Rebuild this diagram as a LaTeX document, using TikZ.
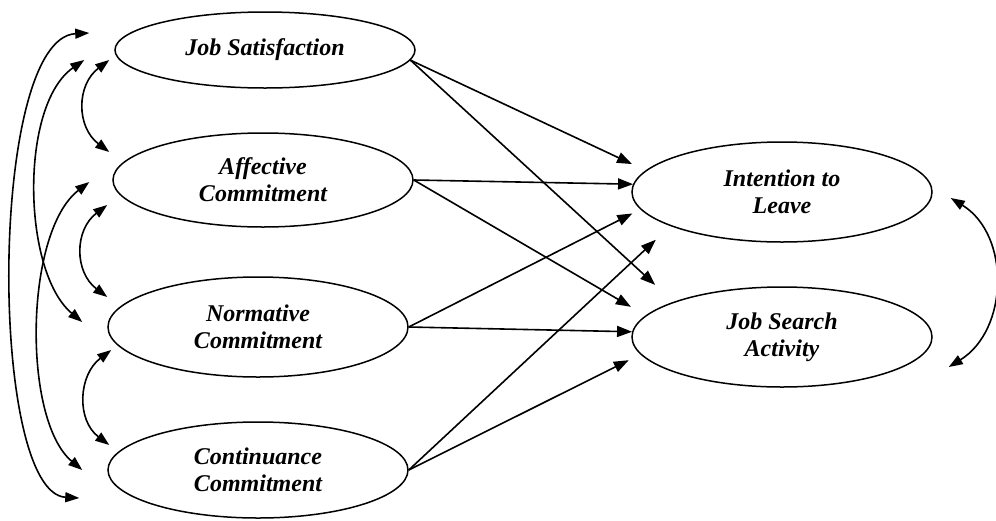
\documentclass[tikz,border=0pt]{standalone}
\usepackage{fontspec}
\setmainfont{Liberation Serif}
\usetikzlibrary{shapes.geometric,arrows.meta}

\begin{document}
\begin{tikzpicture}[x=1pt, y=-1pt,
    latent/.style ={ellipse, draw, line width=1.5pt, minimum width=300pt,
      minimum height=96pt, inner sep=0pt, align=center,
      font=\fontsize{24}{27}\selectfont\bfseries\itshape},
    effect/.style ={-{Triangle[length=15pt,width=11pt]}, line width=1.6pt},
    corr/.style ={{Triangle[length=14pt,width=10pt]}-{Triangle[length=14pt,width=10pt]}, line width=1.6pt}]
   \useasboundingbox (0,0) rectangle (996,520);

   \node[latent, minimum height=76pt] (js)  at (265,50)  {Job Satisfaction};
   \node[latent, minimum height=94pt] (ac)  at (263,180) {Affective\\Commitment};
   \node[latent, minimum height=100pt] (nc) at (258,327) {Normative\\Commitment};
   \node[latent] (cc)  at (258,470) {Continuance\\Commitment};
   \node[latent, minimum height=100pt] (il)  at (782,192) {Intention to\\Leave};
   \node[latent, minimum height=100pt] (jsa) at (782,337) {Job Search\\Activity};

   \draw[effect, shorten >=15pt] (js.-4) -- (il.171);
   \draw[effect, shorten >=25pt] (js.-4) -- (jsa.162);
   \draw[effect] (ac.east) -- (il.177);
   \draw[effect, shorten >=17pt] (ac.east) -- (jsa.171);
   \draw[effect, shorten >=9pt] (nc.east) -- (il.187);
   \draw[effect] (nc.east) -- (jsa.178);
   \draw[effect, shorten >=20pt] (cc.east) -- (il.197);
   \draw[effect, shorten >=13pt] (cc.east) -- (jsa.187);

   % covariances on the left
   \draw[corr] ([shift={(-5,10)}]js.west) .. controls +(-33,25) and +(-33,-25) .. ([shift={(-3,-28)}]ac.west);
   \draw[corr] ([shift={(-5,25)}]ac.west) .. controls +(-33,25) and +(-33,-25) .. ([shift={(0,-30)}]nc.west);
   \draw[corr] ([shift={(4,23)}]nc.west) .. controls +(-33,25) and +(-33,-25) .. ([shift={(2,-25)}]cc.west);
   \draw[corr] ([shift={(-30,10)}]js.west) .. controls +(-65,45) and +(-60,-50) .. ([shift={(-25,-5)}]nc.west);
   \draw[corr] ([shift={(-23,2)}]ac.west) .. controls +(-65,50) and +(-60,-50) .. ([shift={(-25,0)}]cc.west);
   \draw[corr] ([shift={(-25,-17)}]js.west) .. controls +(-101,5) and +(-91,-5) .. ([shift={(-28,28)}]cc.west);

   % residual covariance
   \draw[corr] ([shift={(18,6)}]il.east) .. controls +(60,37) and +(60,-37) .. ([shift={(16,30)}]jsa.east);

 \end{tikzpicture}
\end{document}
